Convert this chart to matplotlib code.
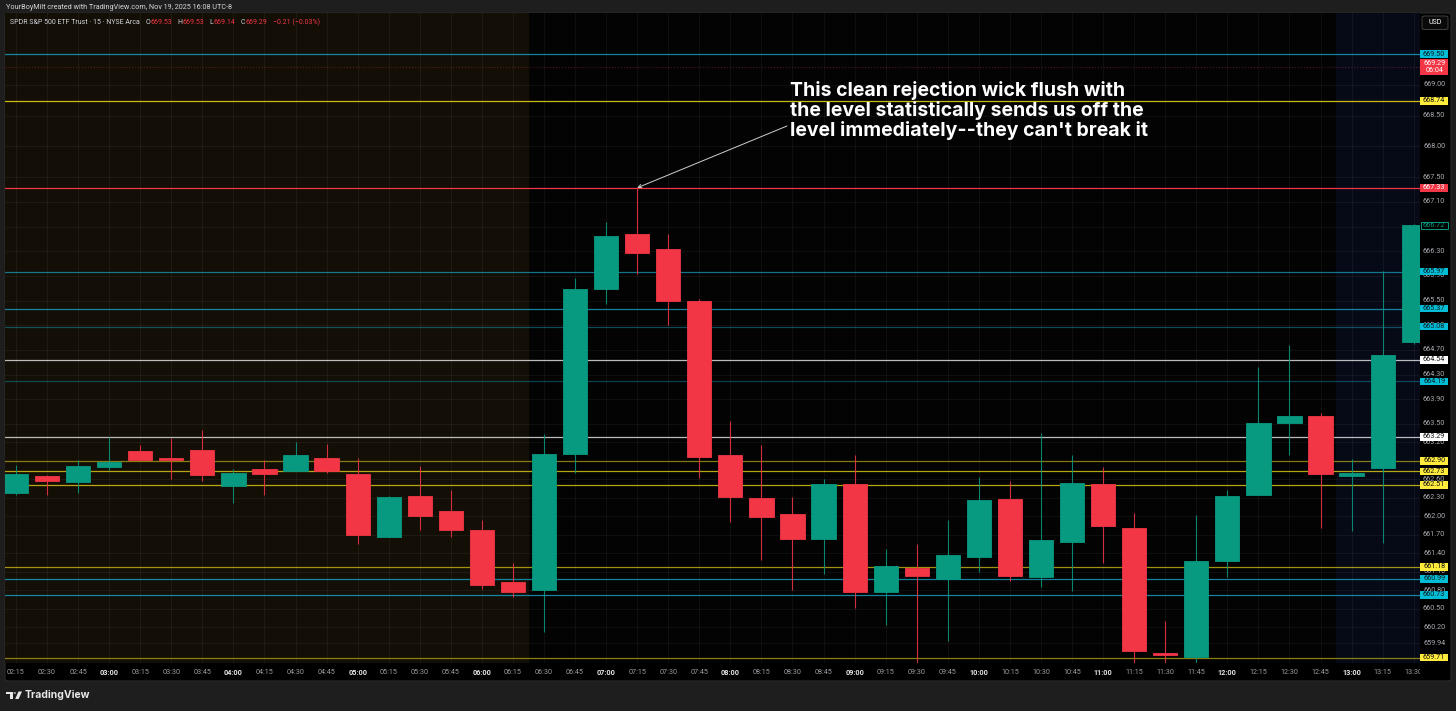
import matplotlib
matplotlib.use("Agg")
import matplotlib.pyplot as plt
from matplotlib.patches import Rectangle, FancyBboxPatch, Polygon, Circle

plt.rcParams['font.family'] = ['Roboto', 'DejaVu Sans']

# --- data: SPY 15 min candles ---
times = ['02:15', '02:30', '02:45', '03:00', '03:15', '03:30', '03:45', '04:00',
         '04:15', '04:30', '04:45', '05:00', '05:15', '05:30', '05:45', '06:00',
         '06:15', '06:30', '06:45', '07:00', '07:15', '07:30', '07:45', '08:00',
         '08:15', '08:30', '08:45', '09:00', '09:15', '09:30', '09:45', '10:00',
         '10:15', '10:30', '10:45', '11:00', '11:15', '11:30', '11:45', '12:00',
         '12:15', '12:30', '12:45', '13:00', '13:15', '13:30']
opens = [662.375, 662.66, 662.56, 662.80, 663.06, 662.955, 663.07, 662.49,
         662.765, 662.74, 662.94, 662.69, 661.67, 662.33, 662.09, 661.78,
         660.94, 660.80, 663.02, 665.69, 666.58, 666.34, 665.49, 662.99,
         662.295, 662.035, 661.63, 662.52, 660.78, 661.16, 660.99, 661.34,
         662.29, 661.02, 661.58, 662.53, 661.82, 659.78, 659.725, 661.27,
         662.35, 663.52, 663.625, 662.66, 662.79, 664.83]
highs = [662.83, 662.67, 662.92, 663.29, 663.16, 663.27, 663.40, 662.765,
         662.92, 663.21, 663.175, 662.94, 662.33, 662.82, 662.43, 661.94,
         661.24, 663.34, 665.86, 666.78, 667.33, 666.58, 665.52, 663.55,
         663.16, 662.32, 662.61, 662.995, 661.47, 661.56, 661.94, 662.635,
         662.575, 663.35, 663.00, 662.80, 662.05, 660.31, 662.02, 662.43,
         664.43, 664.78, 663.67, 662.93, 665.985, 666.75]
lows = [662.35, 662.35, 662.385, 662.75, 662.91, 662.61, 662.57, 662.22,
        662.34, 662.73, 662.71, 661.55, 661.66, 661.78, 661.67, 660.82,
        660.69, 660.13, 662.71, 665.44, 665.94, 665.10, 662.62, 661.905,
        661.29, 660.81, 661.06, 660.51, 660.24, 659.55, 659.985, 661.10,
        660.96, 660.85, 660.79, 661.24, 659.55, 659.55, 659.55, 661.02,
        662.35, 663.00, 661.82, 661.76, 661.57, 664.80]
closes = [662.69, 662.575, 662.82, 662.89, 662.92, 662.92, 662.68, 662.70,
          662.69, 663.00, 662.73, 661.70, 662.32, 662.01, 661.78, 660.89,
          660.78, 663.02, 665.69, 666.55, 666.27, 665.49, 662.97, 662.32,
          661.99, 661.63, 662.53, 660.78, 661.20, 661.04, 661.37, 662.27,
          661.04, 661.62, 662.55, 661.85, 659.82, 659.75, 661.27, 662.33,
          663.52, 663.63, 662.69, 662.70, 664.62, 666.72]

# horizontal levels
level_prices = [669.50, 668.74, 667.33, 665.97, 665.37, 665.08, 664.54, 664.19,
                663.29, 662.90, 662.73, 662.51, 661.18, 660.99, 660.73, 659.71]
level_kinds = ['cyan', 'yellow', 'red', 'cyan', 'cyan', 'cyan', 'white', 'cyan',
               'white', 'yellow', 'yellow', 'yellow', 'yellow', 'cyan', 'cyan', 'yellow']
level_alpha = [0.8, 0.9, 1.0, 0.7, 0.8, 0.45, 0.9, 0.4,
               0.9, 0.55, 0.8, 0.8, 0.7, 0.8, 0.8, 0.6]

price_ticks = [669.00, 668.50, 668.00, 667.50, 667.10, 666.70, 666.30, 665.90,
               665.50, 665.10, 664.70, 664.30, 663.90, 663.50, 663.20, 662.90,
               662.60, 662.30, 662.00, 661.70, 661.40, 661.10, 660.80, 660.50,
               660.20, 659.94]

last_price = 669.29
countdown = '06:04'
visible_close = 666.72

note = ["This clean rejection wick flush with",
        "the level statistically sends us off the",
        "level immediately--they can't break it"]

# --- colours ---
UP = '#089981'
DOWN = '#f23645'
line_col = {'cyan': '#1aa3c2', 'yellow': '#e3cf16', 'red': '#f23645', 'white': '#d0d0d0'}
box_col = {'cyan': '#00bcd4', 'yellow': '#ffeb3b', 'red': '#f23645', 'white': '#ffffff'}
box_txt = {'cyan': '#0d1b22', 'yellow': '#111111', 'red': '#ffffff', 'white': '#111111'}

W, H = 1456, 711
fig = plt.figure(figsize=(W / 100, H / 100), dpi=100, facecolor='#1e1e1e')


def fx(x):
    return x / W


def fy(y):
    return 1 - y / H


# chart panel (behind everything)
fig.patches.append(FancyBboxPatch((fx(5), fy(681)), fx(1446), 668 / H,
                                  boxstyle='round,pad=0,rounding_size=0.003',
                                  transform=fig.transFigure, facecolor='#000000',
                                  edgecolor='#2a2a2a', lw=0.8, zorder=-5))

x0, dx = 16, 31.06
ax = fig.add_axes([fx(5), fy(663), (1420 - 5) / W, 650 / H])
ax.set_facecolor('#030303')
xlim = ((5 - x0) / dx, (1420 - x0) / dx)
ylim = (659.623, 670.165)
ax.set_xlim(*xlim)
ax.set_ylim(*ylim)
for s in ax.spines.values():
    s.set_visible(False)
ax.set_xticks([])
ax.set_yticks([])

n = len(times)
# session shading
ax.axvspan(xlim[0], 16.5, color='#130e06', zorder=0)
ax.axvspan(42.5, xlim[1], color='#060a17', zorder=0)

# grid
for i in range(n):
    ax.axvline(i, color='#ffffff', alpha=0.05, lw=0.7, zorder=1)
for p in price_ticks:
    ax.axhline(p, color='#ffffff', alpha=0.05, lw=0.7, zorder=1)

# levels
for p, k, a in zip(level_prices, level_kinds, level_alpha):
    ax.axhline(p, color=line_col[k], alpha=a, lw=0.9, zorder=2)
ax.axhline(last_price, color=DOWN, alpha=0.35, lw=0.8, ls=':', zorder=2)

# candles
for i in range(n):
    o, h, l, c = opens[i], highs[i], lows[i], closes[i]
    col = UP if c >= o else DOWN
    ax.vlines(i, l, h, color=col, lw=0.8, alpha=0.85, zorder=3)
    bot = min(o, c)
    hgt = max(abs(c - o), 0.025)
    ax.bar(i, hgt, bottom=bot, width=0.78, color=col, edgecolor=col, lw=0.6, zorder=4)

# annotation
tf = dict(family=['Inter', 'DejaVu Sans'], weight='bold', color='white', fontsize=14)
for j, line in enumerate(note):
    fig.text(fx(790), fy(96.5 + 20 * j), line, ha='left', va='baseline', **tf)
ax.annotate('', xy=(20, 667.33), xytext=(fx(787), fy(126)), textcoords='figure fraction',
            arrowprops=dict(arrowstyle='->', color='#d0d0d0', lw=0.7,
                            shrinkA=0, shrinkB=0, mutation_scale=6), zorder=6)

# price axis
pax = fig.add_axes([fx(1420), fy(663), 30 / W, 650 / H])
pax.set_facecolor('#000000')
pax.set_xlim(0, 1)
pax.set_ylim(*ylim)
pax.axis('off')
for p in price_ticks:
    pax.text(0.47, p, f'{p:.2f}', ha='center', va='center', color='#a9abb2',
             fontsize=5.2, zorder=2)
hh = 0.062
for p, k in zip(level_prices, level_kinds):
    pax.add_patch(Rectangle((0.0, p - hh), 0.93, 2 * hh, facecolor=box_col[k],
                            edgecolor='none', zorder=3))
    pax.text(0.47, p, f'{p:.2f}', ha='center', va='center', color=box_txt[k],
             fontsize=5.2, zorder=4)
# last price box with countdown
pax.add_patch(Rectangle((0.0, last_price - 0.135), 0.93, 0.265, facecolor=DOWN,
                        edgecolor='none', zorder=3))
pax.text(0.47, last_price + 0.055, f'{last_price:.2f}', ha='center', va='center',
         color='white', fontsize=5.2, zorder=4)
pax.text(0.47, last_price - 0.065, countdown, ha='center', va='center',
         color='white', fontsize=5.2, zorder=4)
# visible close box
pax.add_patch(Rectangle((0.02, visible_close - hh), 0.9, 2 * hh, facecolor='#000000',
                        edgecolor=UP, lw=0.7, zorder=3))
pax.text(0.47, visible_close, f'{visible_close:.2f}', ha='center', va='center',
         color=UP, fontsize=5.2, zorder=4)

# USD box
fig.patches.append(FancyBboxPatch((fx(1422), fy(29.5)), 26 / W, 13.5 / H,
                                  boxstyle='round,pad=0,rounding_size=0.002',
                                  transform=fig.transFigure, facecolor='#0a0a0a',
                                  edgecolor='#4a4a4a', lw=0.6, zorder=5))
fig.text(fx(1435), fy(23), 'USD', ha='center', va='center', color='white',
         fontsize=5.0, zorder=6)

# time axis
tax = fig.add_axes([fx(5), fy(681), 1415 / W, 18 / H])
tax.set_facecolor('#000000')
tax.set_xlim(*xlim)
tax.set_ylim(0, 1)
tax.axis('off')
for i, t in enumerate(times):
    full_hour = t.endswith(':00')
    tax.text(i, 0.47, t, ha='center', va='center', fontsize=5.2,
             color='#e6e6e6' if full_hour else '#9a9ca3',
             weight='bold' if full_hour else 'normal', clip_on=True)

# header texts
fig.text(fx(5.5), fy(7.5), 'YourBoyMilt created with TradingView.com, Nov 19, 2025 16:08 UTC-8',
         ha='left', va='center', color='#d8d8d8', fontsize=5.2)
hdr = fig.text(fx(10), fy(22.3), 'SPDR S&P 500 ETF Trust · 15 · NYSE Arca', ha='left',
               va='center', color='#d1d4dc', fontsize=5.0)
hdr_parts = [('O', '#d1d4dc', 4), ('669.53', DOWN, 0),
             ('H', '#d1d4dc', 4), ('669.53', DOWN, 0),
             ('L', '#d1d4dc', 4), ('669.14', DOWN, 0),
             ('C', '#d1d4dc', 4), ('669.29', DOWN, 0),
             ('\u22120.21 (\u22120.03%)', DOWN, 4)]
# chain the OHLC pieces one after the other
prev = hdr
for s, c, gap in hdr_parts:
    prev = ax.annotate(s, xy=(1, 0), xycoords=prev, xytext=(gap, 0),
                       textcoords='offset points', ha='left', va='bottom',
                       color=c, fontsize=5.0, annotation_clip=False)

# TradingView footer logo
logo_c = '#e8e8e8'
fig.patches.append(Polygon([(fx(6), fy(691.5)), (fx(12.7), fy(691.5)), (fx(12.7), fy(699)),
                            (fx(9.6), fy(699)), (fx(9.6), fy(694.3)), (fx(6), fy(694.3))],
                           closed=True, transform=fig.transFigure, facecolor=logo_c,
                           edgecolor='none'))
fig.patches.append(Circle((fx(14.8), fy(693)), 1.3 / W, transform=fig.transFigure,
                          facecolor=logo_c, edgecolor='none'))
fig.patches.append(Polygon([(fx(18.5), fy(691.5)), (fx(22), fy(691.5)), (fx(18.6), fy(699)),
                            (fx(15.2), fy(699))], closed=True, transform=fig.transFigure,
                           facecolor=logo_c, edgecolor='none'))
fig.text(fx(25), fy(695.5), 'TradingView', ha='left', va='center', color=logo_c,
         fontsize=7.5, weight='bold', family=['Inter', 'DejaVu Sans'])

fig.savefig('out.png', dpi=100, facecolor=fig.get_facecolor())
